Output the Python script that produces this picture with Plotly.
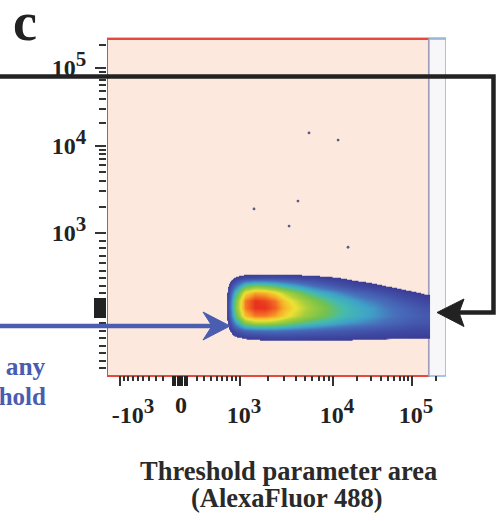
import numpy as np
import plotly.graph_objects as go

# ---------------- data ----------------
# density grid of the event cloud: x bin centres (fluorescence), y bin centres
X_VALUES = [660, 880, 1130, 1450, 1860, 2380, 3050, 3900, 5000, 6400, 8200,
            10600, 14200, 19000, 25400, 34000, 45500, 61000, 81500, 109000, 146000]
Y_VALUES = [-500, -400, -300, -200, -100, 0, 100, 200, 300, 400, 500]
# relative event density, one list per x bin (values for Y_VALUES bottom->top)
DENSITY_BY_COLUMN = [
    [0, 0, 0, 0, 0, 0, 0, 0, 0, 0, 0],
    [0, 6, 16, 34, 48, 54, 52, 42, 26, 9, 0],
    [0, 9, 24, 56, 76, 84, 84, 72, 48, 15, 0],
    [0, 10, 26, 62, 84, 92, 92, 80, 54, 16, 0],
    [1, 11, 27, 62, 84, 92, 90, 78, 52, 17, 1],
    [1, 12, 27, 60, 80, 87, 85, 72, 48, 17, 1],
    [1, 12, 26, 56, 72, 77, 74, 63, 42, 16, 1],
    [1, 12, 25, 51, 66, 70, 67, 56, 37, 15, 1],
    [1, 12, 24, 47, 60, 64, 60, 49, 32, 13, 0],
    [1, 11, 23, 44, 55, 58, 54, 43, 27, 12, 0],
    [1, 11, 22, 41, 51, 53, 49, 38, 24, 10, 0],
    [1, 11, 21, 38, 47, 48, 44, 34, 20, 9, 0],
    [1, 11, 20, 35, 43, 44, 40, 30, 17, 7, 0],
    [1, 10, 19, 33, 40, 40, 36, 26, 14, 5, 0],
    [1, 10, 18, 31, 37, 37, 32, 23, 12, 4, 0],
    [1, 10, 17, 29, 34, 34, 29, 20, 10, 3, 0],
    [1, 9, 16, 26, 31, 30, 26, 17, 8, 2, 0],
    [0, 9, 15, 24, 28, 27, 22, 14, 6, 1, 0],
    [0, 9, 14, 22, 25, 24, 19, 11, 4, 0, 0],
    [0, 8, 13, 20, 23, 21, 16, 9, 3, 0, 0],
    [0, 8, 13, 19, 21, 18, 13, 7, 2, 0, 0],
]
# isolated events
OUTLIER_X = [5520, 11600, 1415, 4200, 3370, 15500]
OUTLIER_Y = [14700, 11900, 1890, 2330, 1200, 810]

X_TICK_VALUES = [-1000, 0, 1000, 10000, 100000]
X_TICK_LABELS = ["\u00a0\u00a0\u00a0-10<sup><span style='font-size:21px'>3</span></sup>",
                 "<sup><span style='font-size:24px'>0</span></sup>\u00a0",
                 "10<sup><span style='font-size:21px'>3</span></sup>",
                 "10<sup><span style='font-size:21px'>4</span></sup>",
                 "10<sup><span style='font-size:21px'>5</span></sup>"]
Y_TICK_VALUES = [1000, 10000, 100000]
Y_TICK_LABELS = ["10<sup><span style='font-size:21px'>3</span></sup>",
                 "10<sup><span style='font-size:21px'>4</span></sup>",
                 "10<sup><span style='font-size:21px'>5</span></sup>"]
GATE_SPLIT_X = 164000      # border between the red gate and the blue gate

# ---------------- biexponential display scales ----------------
def x_disp(v):
    v = np.asarray(v, dtype=float)
    a = np.abs(v)
    lin = 60 * np.log1p(1.5 * np.minimum(a, 1000) / 1000) / np.log(2.5)
    lg = np.log10(np.maximum(a, 1000))
    logp = np.where(lg <= 4, 60 + (lg - 3) * 93, 60 + 93 + (lg - 4) * 79)
    d = np.where(a < 1000, lin, logp)
    return 73 + np.sign(v) * d


def y_disp(v):
    v = np.asarray(v, dtype=float)
    a = np.abs(v)
    lin = 75 * np.minimum(a, 1000) / 1000
    lg = np.log10(np.maximum(a, 1000))
    logp = np.where(lg <= 4, 75 + (lg - 3) * 87, 75 + 87 + (lg - 4) * 78)
    d = np.where(a < 1000, lin, logp)
    return 67 + np.sign(v) * d


X_RANGE = [0, 339]
Y_RANGE = [0, 336]

# tick sets
x_near0 = [-75, -50, -25, 0, 25, 50, 75]
x_minor = [s * m for s in (-1, 1) for m in range(200, 1000, 100)]
x_minor += [m * 10 ** k for k in (3, 4) for m in range(2, 10)] + [200000]
y_near0 = [-125, -100, -75, -50, -25, 0, 25, 50, 75, 100, 125]
y_minor = [s * m for s in (-1, 1) for m in range(200, 1000, 100)]
y_minor += [m * 10 ** k for k in (3, 4) for m in range(2, 10)] + [200000]

z = np.array(DENSITY_BY_COLUMN, dtype=float).T

SERIF = "Liberation Serif"
W, H = 496, 521
L, R, T, B = 107, 446, 39, 375


def px(x):
    return (x - L) / (R - L)


def py(y):
    return (B - y) / (B - T)


fig = go.Figure()
fig.add_trace(go.Heatmap(
    x=x_disp(X_VALUES), y=y_disp(Y_VALUES), z=z, zmin=0, zmax=100,
    zsmooth="best", showscale=False, hoverinfo="skip",
    colorscale=[
        [0.0, "rgba(255,255,255,0)"], [0.079, "rgba(255,255,255,0)"],
        [0.08, "#3b3d96"], [0.18, "#4352aa"], [0.28, "#4870bb"],
        [0.36, "#3fa2c8"], [0.44, "#45bbb0"], [0.52, "#74c24e"],
        [0.62, "#a9cf3c"], [0.70, "#efe233"], [0.79, "#f7ac2a"],
        [0.86, "#f26924"], [0.92, "#e8321e"], [1.0, "#e01e1a"]],
))
fig.add_trace(go.Scatter(
    x=x_disp(OUTLIER_X), y=y_disp(OUTLIER_Y), mode="markers",
    marker=dict(size=2.8, color="#5a5b88"), hoverinfo="skip", showlegend=False))
# carrier for the dense near-zero tick blocks (no data)
fig.add_trace(go.Scatter(x=[], y=[], xaxis="x2", yaxis="y2", showlegend=False,
                         hoverinfo="skip"))

split = float(x_disp([GATE_SPLIT_X])[0])
shapes = [
    dict(type="line", xref="paper", yref="paper", x0=0, x1=1, y0=py(38), y1=py(38),
         line=dict(color="#8a8a8a", width=1), layer="below"),
    dict(type="rect", xref="x", yref="paper", x0=X_RANGE[0], x1=split, y0=-0.003, y1=1,
         fillcolor="#fce8dc", line=dict(color="#e8473c", width=2), layer="below"),
    dict(type="rect", xref="x", yref="paper", x0=split, x1=X_RANGE[1], y0=-0.003, y1=1,
         fillcolor="#f7f7f9", line=dict(color="#8db3dd", width=1.5), layer="below"),
]


def path(points, close=False):
    s = "M " + " L ".join(f"{px(a):.4f},{py(b):.4f}" for a, b in points)
    return s + (" Z" if close else "")


# black arrow
shapes.append(dict(type="path", xref="paper", yref="paper",
                   path=path([(-5, 76.5), (493.5, 76.5), (493.5, 312.5), (458, 312.5)]),
                   line=dict(color="#222222", width=4.5), layer="above"))
shapes.append(dict(type="path", xref="paper", yref="paper",
                   path=path([(437, 312.5), (464, 299), (459, 312.5), (464, 326.5)], True),
                   fillcolor="#222222", line=dict(color="#222222", width=1), layer="above"))
# blue arrow
shapes.append(dict(type="path", xref="paper", yref="paper",
                   path=path([(-5, 326), (214, 326)]),
                   line=dict(color="#4a5db0", width=4.5), layer="above"))
shapes.append(dict(type="path", xref="paper", yref="paper",
                   path=path([(230, 326), (203, 312), (212, 326), (203, 340)], True),
                   fillcolor="#4a5db0", line=dict(color="#4a5db0", width=1), layer="above"))

ann_font = dict(family=SERIF, weight="bold")
annotations = [
    dict(x=px(25), y=py(22), xref="paper", yref="paper", text="c", showarrow=False,
         xanchor="center", yanchor="middle",
         font=dict(size=54, color="#222222", **ann_font)),
    dict(x=px(288.5), y=py(471), xref="paper", yref="paper", text="Threshold parameter area",
         showarrow=False, xanchor="center", yanchor="middle",
         font=dict(size=26.5, color="#2a2a2a", **ann_font)),
    dict(x=px(287), y=py(498), xref="paper", yref="paper", text="(AlexaFluor 488)",
         showarrow=False, xanchor="center", yanchor="middle",
         font=dict(size=26.5, color="#2a2a2a", **ann_font)),
    dict(x=px(48), y=py(366), xref="paper", yref="paper", text="in any",
         showarrow=False, xanchor="right", yanchor="middle",
         font=dict(size=25.5, color="#4a5cb0", **ann_font)),
    dict(x=px(48), y=py(396), xref="paper", yref="paper", text="threshold",
         showarrow=False, xanchor="right", yanchor="middle",
         font=dict(size=25, color="#4a5cb0", **ann_font)),
]

tickfont = dict(family=SERIF, size=24, color="#222222", weight="bold")
fig.update_layout(
    width=W, height=H, margin=dict(l=L, r=W - R, t=T, b=H - B),
    paper_bgcolor="white", plot_bgcolor="rgba(0,0,0,0)", showlegend=False,
    shapes=shapes, annotations=annotations,
    xaxis=dict(range=X_RANGE, showgrid=False, zeroline=False, showline=False,
               tickmode="array", tickvals=x_disp(X_TICK_VALUES), ticktext=X_TICK_LABELS,
               ticks="outside", ticklen=10, tickwidth=2, tickcolor="#333333",
               tickfont=tickfont, ticklabelshift=4, ticklabelstandoff=8,
               minor=dict(tickmode="array", tickvals=x_disp(x_minor), ticks="outside",
                          ticklen=5, tickwidth=1.5, tickcolor="#333333")),
    yaxis=dict(range=Y_RANGE, showgrid=False, zeroline=False, showline=False,
               tickmode="array", tickvals=y_disp(Y_TICK_VALUES), ticktext=Y_TICK_LABELS,
               ticks="outside", ticklen=11, tickwidth=2, tickcolor="#333333",
               tickfont=tickfont, ticklabelstandoff=4,
               minor=dict(tickmode="array", tickvals=y_disp(y_minor), ticks="outside",
                          ticklen=7, tickwidth=1.5, tickcolor="#333333")),
    xaxis2=dict(range=X_RANGE, overlaying="x", anchor="y2", side="bottom",
                showgrid=False, zeroline=False, showline=False, showticklabels=False,
                tickmode="array", tickvals=x_disp(x_near0), ticks="outside",
                ticklen=10, tickwidth=1.6, tickcolor="#222222"),
    yaxis2=dict(range=Y_RANGE, overlaying="y", anchor="x2", side="left",
                showgrid=False, zeroline=False, showline=False, showticklabels=False,
                tickmode="array", tickvals=y_disp(y_near0), ticks="outside",
                ticklen=12, tickwidth=1.6, tickcolor="#222222"),
)

fig.write_html("out.html", config={"displayModeBar": False},
               post_script="document.body.style.margin='0';")
